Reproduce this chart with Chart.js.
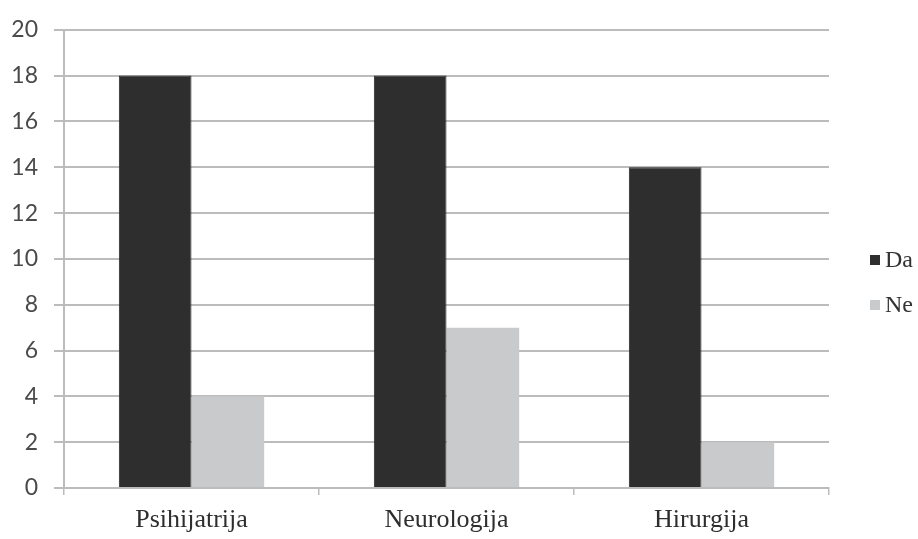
<!DOCTYPE html>
<html>
<head>
<meta charset="utf-8">
<script src="https://cdn.jsdelivr.net/npm/chart.js@4"></script>
<style>
    html, body { margin: 0; padding: 0; background: #ffffff; }
    #wrap { width: 918px; height: 539px; }
    #odgovori { filter: blur(0.5px); }
</style>
</head>
<body>
<div id="wrap"><canvas id="odgovori" width="918" height="539"></canvas></div>
<script>
const odeljenja = ['Psihijatrija', 'Neurologija', 'Hirurgija'];
const da = [18, 18, 14];
const ne = [4, 7, 2];
const yTicks = [0, 2, 4, 6, 8, 10, 12, 14, 16, 18, 20];

const gridColor = '#bcbcbc';
const serif = "'Liberation Serif', 'Times New Roman', serif";

// legend on the right, drawn by hand so it sits where it should
const sideLegend = {
    id: 'sideLegend',
    afterDraw(chart) {
        const ctx = chart.ctx;
        const rows = [260, 305];
        ctx.save();
        ctx.font = '24px ' + serif;
        ctx.textBaseline = 'middle';
        chart.data.datasets.forEach((ds, i) => {
            ctx.fillStyle = ds.backgroundColor;
            ctx.fillRect(870, rows[i] - 5, 10, 10);
            ctx.fillStyle = '#333333';
            ctx.fillText(ds.label, 885, rows[i] + 1);
        });
        ctx.restore();
    }
};

new Chart(document.getElementById('odgovori').getContext('2d'), {
    type: 'bar',
    data: {
        labels: odeljenja,
        datasets: [
            { label: 'Da', data: da, backgroundColor: '#2e2e2e', borderColor: '#262626', borderWidth: 1 },
            { label: 'Ne', data: ne, backgroundColor: '#c9cacc', borderWidth: 0 }
        ]
    },
    options: {
        responsive: false,
        animation: false,
        layout: { padding: { top: 23, right: 89, left: 0, bottom: 0 } },
        datasets: { bar: { categoryPercentage: 0.57, barPercentage: 1.0 } },
        plugins: { legend: { display: false }, tooltip: { enabled: false } },
        scales: {
            x: {
                afterFit: s => { s.height = 51; },
                grid: { drawOnChartArea: false, drawTicks: true, tickLength: 7, color: gridColor, lineWidth: 1.5 },
                border: { display: true, color: gridColor, width: 2 },
                ticks: {
                    padding: 10,
                    color: '#2e2e2e',
                    font: { family: serif, size: 26 }
                }
            },
            y: {
                min: 0,
                max: 20,
                afterFit: s => { s.width = 64; },
                afterBuildTicks: s => { s.ticks = yTicks.map(v => ({ value: v })); },
                grid: { color: gridColor, lineWidth: 2, tickLength: 10 },
                border: { display: true, color: gridColor, width: 2 },
                ticks: {
                    padding: 16,
                    color: '#4a4a4a',
                    font: { family: 'Lato', size: 23 }
                }
            }
        }
    },
    plugins: [sideLegend]
});
</script>
</body>
</html>
